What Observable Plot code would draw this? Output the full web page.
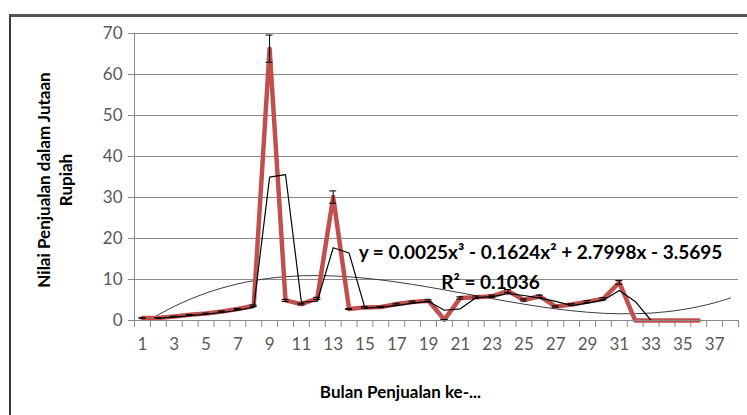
<!DOCTYPE html>
<html>
<head>
<meta charset="utf-8">
<script src="https://cdn.jsdelivr.net/npm/d3@7"></script>
<script src="https://cdn.jsdelivr.net/npm/@observablehq/plot@0.6"></script>
<style>
  html, body { margin: 0; padding: 0; background: #fff; }
  #wrap { position: relative; width: 747px; height: 415px; overflow: hidden; background: #fff; }
  #frame { position: absolute; left: 9px; top: 14px; width: 800px; height: 500px; border-left: 2px solid #3a3a3a; border-top: 3px solid #555; }
  #chart { position: absolute; left: 0; top: 0; }
  svg text { font-family: Lato, "Open Sans", sans-serif; }
</style>
</head>
<body>
<div id="wrap"><div id="frame"></div><div id="chart"></div></div>
<script>
// Month numbers (categories)
const months = d3.range(1, 37);
// Sales value per month (millions of Rupiah)
const sales = [0.6, 0.6, 1.0, 1.4, 1.7, 2.2, 2.8, 3.6, 66.3, 4.9, 4.0, 5.4, 30.1, 2.8, 3.2, 3.3, 4.0, 4.5, 4.8, 0.2,
               5.5, 5.7, 5.9, 7.2, 5.0, 5.9, 3.4, 3.9, 4.6, 5.3, 9.3, 0, 0, 0, 0, 0];
// 2-period moving average line, months 2..36
const maMonths = d3.range(2, 37);
const maValues = [0.6, 0.8, 1.2, 1.55, 1.95, 2.5, 3.2, 34.95, 35.6, 4.45, 4.7, 17.75, 16.45, 3.0, 3.25, 3.65, 4.25, 4.65, 2.5,
                  2.85, 5.6, 5.8, 6.55, 6.1, 5.45, 4.65, 3.65, 4.25, 4.95, 7.3, 4.65, 0, 0, 0, 0];
// Polynomial trendline values at months 1..38
const trendMonths = d3.range(1, 39);
const trendValues = [-0.93, 1.40, 3.44, 5.19, 6.68, 7.92, 8.93, 9.72, 10.30, 10.69, 10.91, 10.96, 10.87, 10.66, 10.33,
                     9.89, 9.38, 8.79, 8.15, 7.47, 6.76, 6.04, 5.33, 4.64, 3.99, 3.38, 2.84, 2.38, 2.02, 1.76,
                     1.64, 1.65, 1.81, 2.15, 2.67, 3.39, 4.33, 5.50];
// Error bar amount (percentage of value)
const errorPercent = 5;
// Tick labels
const xTickLabels = d3.range(1, 38, 2);
const yTicks = [0, 10, 20, 30, 40, 50, 60, 70];
const categoryEdges = d3.range(0.5, 39, 1);
const equationText = "y = 0.0025x³ - 0.1624x² + 2.7998x - 3.5695";
const r2Text = "R² = 0.1036";
const xTitle = "Bulan Penjualan ke-...";
const yTitle = "Nilai Penjualan dalam Jutaan\nRupiah";

const salesData = months.map((m, i) => ({m, v: sales[i], e: sales[i] * errorPercent / 100}));
const maData = maMonths.map((m, i) => ({m, v: maValues[i]}));
const trendData = trendMonths.map((m, i) => ({m, v: trendValues[i]}));

const gridColor = "#8a8a8a";
const plot = Plot.plot({
  width: 747,
  height: 415,
  marginLeft: 134,
  marginRight: 9,
  marginTop: 33,
  marginBottom: 95,
  style: {background: "transparent", overflow: "visible"},
  x: {domain: [0.5, 38.5]},
  y: {domain: [0, 70]},
  marks: [
    Plot.gridY(yTicks, {stroke: gridColor, strokeOpacity: 1, strokeWidth: 1, x1: 0.12, x2: 38.5}),
    Plot.ruleX([0.5], {stroke: gridColor, strokeWidth: 1}),
    Plot.axisY({ticks: yTicks, tickSize: 0, tickPadding: 12, fontSize: 17, color: "#595959", label: null}),
    Plot.axisX({ticks: categoryEdges, tickSize: 7, tickFormat: () => "", stroke: gridColor, label: null}),
    Plot.axisX({ticks: xTickLabels, tickSize: 0, tickPadding: 17, fontSize: 17, color: "#595959", label: null}),
    Plot.line(trendData, {x: "m", y: "v", stroke: "#3c3c3c", strokeWidth: 1, curve: "catmull-rom", clip: true}),
    Plot.line(salesData, {x: "m", y: "v", stroke: "#c0504d", strokeWidth: 4.5, strokeLinejoin: "round"}),
    Plot.line(maData, {x: "m", y: "v", stroke: "#000", strokeWidth: 1.2}),
    Plot.ruleX(salesData, {x: "m", y1: d => d.v - d.e, y2: d => d.v + d.e, stroke: "#000", strokeWidth: 1}),
    Plot.ruleY(salesData, {y: d => d.v + d.e, x1: d => d.m - 0.22, x2: d => d.m + 0.22, stroke: "#000", strokeWidth: 1}),
    Plot.ruleY(salesData, {y: d => d.v - d.e, x1: d => d.m - 0.22, x2: d => d.m + 0.22, stroke: "#000", strokeWidth: 1}),
    Plot.ruleY([0], {stroke: gridColor, strokeWidth: 1}),
    Plot.text([equationText], {frameAnchor: "top-left", dx: 406, dy: 212, text: d => d, fontSize: 19, fontWeight: "bold", fill: "#000", textAnchor: "middle"}),
    Plot.text([r2Text], {frameAnchor: "top-left", dx: 356, dy: 242, text: d => d, fontSize: 19, fontWeight: "bold", fill: "#000", textAnchor: "middle"}),
    Plot.text([xTitle], {frameAnchor: "bottom", dx: -36, dy: 77, text: d => d, fontSize: 17, fontWeight: "bold", fill: "#000", textAnchor: "middle"}),
    Plot.text([yTitle], {frameAnchor: "left", dx: -81, dy: 3, rotate: -90, text: d => d, fontSize: 17, fontWeight: "bold", fill: "#000", lineHeight: 1.3, textAnchor: "middle"})
  ]
});
document.getElementById("chart").appendChild(plot);
</script>
</body>
</html>
